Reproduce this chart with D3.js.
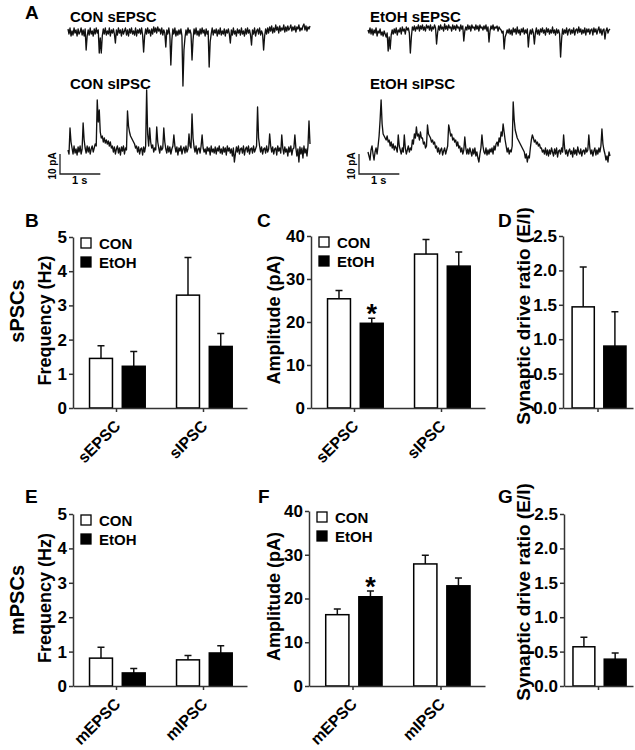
<!DOCTYPE html>
<html lang="en">
<head>
  <meta charset="UTF-8">
  <title>sPSCs / mPSCs</title>
  <style>
    body { margin: 0; background: #fff; }
    svg { font-family: "Liberation Sans", Arial, sans-serif; font-weight: bold; }
    .axis path, .axis line { stroke: #333; stroke-width: 1.5; }
    .axis text { font-size: 17px; font-weight: bold; fill: #000; font-family: "Liberation Sans", Arial, sans-serif; }
    .axis.x text { font-size: 16px; }
    .trace { fill: none; stroke: #111; stroke-width: 1.35; stroke-linejoin: round; }
    .scalebar { fill: none; stroke: #222; stroke-width: 1.3; }
  </style>
</head>
<body>
  <svg width="635" height="750"></svg>
  <script src="https://cdn.jsdelivr.net/npm/d3@7"></script>
  <script>
    // ---- data ----
    var groups = ["CON", "EtOH"];
    var spontCats = ["sEPSC", "sIPSC"];
    var miniCats = ["mEPSC", "mIPSC"];
    var ratioCats = [""];

    var freqTicks = [0, 1, 2, 3, 4, 5];
    var ampTicks = [0, 10, 20, 30, 40];
    var driveTicks = [0, 0.5, 1, 1.5, 2, 2.5];

    // B
    var sFreqCon = [1.45, 3.30], sFreqConSem = [0.37, 1.10];
    var sFreqEtoh = [1.22, 1.80], sFreqEtohSem = [0.43, 0.38];
    // C
    var sAmpCon = [25.4, 35.8], sAmpConSem = [1.9, 3.4];
    var sAmpEtoh = [19.7, 33.0], sAmpEtohSem = [1.2, 3.3];
    // D
    var sDriveCon = [1.47], sDriveConSem = [0.58];
    var sDriveEtoh = [0.90], sDriveEtohSem = [0.50];
    // E
    var mFreqCon = [0.81, 0.76], mFreqConSem = [0.32, 0.13];
    var mFreqEtoh = [0.38, 0.96], mFreqEtohSem = [0.13, 0.21];
    // F
    var mAmpCon = [16.3, 27.9], mAmpConSem = [1.3, 2.0];
    var mAmpEtoh = [20.4, 22.9], mAmpEtohSem = [1.3, 1.8];
    // G
    var mDriveCon = [0.57], mDriveConSem = [0.14];
    var mDriveEtoh = [0.39], mDriveEtohSem = [0.09];

    // example traces (pA, one sample every 0.025 s, 6 s)
    var dt = 0.025;
    var conSEPSC = [
      1.5, -1, 2, -2, 0.5, -1.5, 2, -0.5, 1, -2, 1.5, -1, 0, 2, -1.5, 1, -2, 1.5, -9, -2,
      1, -1.5, 2, -1, 0.5, -2, 1.5, -1, 2, -0.5, 1, -10.5, -3, -10.5, -2, 1.5, -1, 2, -1.5, 0.5,
      -1, 2, -2, 1, -0.5, 1.5, -1, -5.5, 1, -1.5, 2, -0.5, 1, -2, 1.5, -1, 0.5, 2, -1.5, 1,
      -2, 1.5, -0.5, 2, -1, 0.5, -1.5, 2, -2, 1, -0.5, 1.5, -1, 2, -1.5, -10, -2, 1.5, -1, 2,
      -0.5, 1, -2, 1.5, -1, 2.5, 0, 2, -0.5, 2.5, 0.5, 1.5, -1, 2, -1.5, 1, -0.5, -7.5, 1, -1,
      2, -1.5, -16.5, -4, 1.5, -1, 2, -2, 0.5, -1.5, 1, -1, 1.5, -2, -27, -9, -3, 1, -1.5, 2,
      -0.5, 1, -1, -14, -4, 1.5, -1, 2, -1.5, 0.5, -2, 1.5, -1, 2, -0.5, 1, -2, 1.5, -1, 0.5,
      -17.5, -5, -1, 2, -1.5, 1, -0.5, 1.5, -2, 1, -1, 2, -1.5, 0.5, -1, 1.5, -2, 1, -0.5, 1.5,
      -1, -5.5, 1, -1.5, 2, -1, 0.5, -2, 1.5, -0.5, 1, -1.5, 2, -1, 0.5, -2, 1.5, -1, 2, -0.5,
      1, -1.5, -6.5, 1, -1, 2, -2, 0.5, 1.5, -1, 2, -1.5, 0.5, -1, -9, -2, 1.5, -1, 2, -0.5,
      2.5, 0.5, 3, -0.5, 2, 0, 3.5, 1, 2.5, -0.5, 3, 0.5, 2, 1, 3.5, 0, 2.5, 0.5, 3, 1,
      2, 3.5, 0.5, 2.5, 1, 3, 0, 2.5, 1.5, 3.5, 0.5, 2, 1, 3, 4, 1, 3, 0.5, 2.5, 1.5,
      3
    ];
    var conSIPSC = [
      0, -2, 11, 4, 1, -2, 2, -1.5, 0.5, -2.5, 1.5, -1, 2, -2, 0.5, 13.5, 5, 1, -1.5, 2,
      -1, 1.5, -2, 0.5, 2, -1, 1, 3, 2, 25, 14, 20, 9, 6, 7, 4, 6, 3.5, 5, 3,
      4.5, 2, 4, 1, 2, -1, 1.5, -2, 0.5, 2, -1.5, 1, -2.5, 1.5, -0.5, 2, -2, 1, 0, 19.5,
      12, 9, 7, 6, 5, 4, 3, 1, 2, -1, 1.5, -2, 0.5, 1, -2.5, 1.5, -1, 2, 30, 8,
      2, 11, 4, 1, 2.5, -1, 1, 0, 11.5, 4, 1, -1.5, 2, 0, 1, 11, 4, 0.5, -1.5, 2,
      -1, 1.5, -2, 0.5, 2, 7.5, 2, -1, 1.5, -2.5, 1, -0.5, 2, -2, 0.5, 1.5, -1.5, 2, -1, 0.5,
      8, 2, 1, 18, 6, 1.5, -1, 2, -2, 0.5, 1, -1.5, 2, 7.5, 1, -1, 0.5, -2, 1.5, -0.5,
      1, -2.5, 2, -1, 0.5, -1.5, 1.5, -2, 1, -0.5, 2, -1.5, 0.5, -2, 1.5, -1, 1, -2.5, 2, -0.5,
      1, -1.5, 0.5, -3, 1, -6, -2, 1.5, -1, 2, -2, 0.5, 1, -1.5, 2, -2.5, 0.5, 1.5, -1, 2,
      -2, 0.5, 1, -1.5, 2, -1, 0.5, 2, 21.5, 6, 2, -1, 1.5, -2, 0.5, 1, -1.5, 2, -1, 0.5,
      8, 2, -1, 1.5, -2, 0.5, 1, -2.5, 2, -0.5, 1, -1.5, 7.5, 1, -2, 1.5, -1, 0.5, -3, 1.5,
      -1, 2, -2.5, 0.5, 1, 7.5, 1, -3, 0.5, -6, 1.5, -2, 1, -4, 2, -1.5, 0.5, -3, 2, 14.5,
      3
    ];
    var etohSEPSC = [
      0.5, -1, 1.5, -1.5, 1, -2, 0.5, -1, 1.5, -2.5, 0, -1, 1, -2, -0.5, -2.5, 0, -1.5, -3, -1,
      -10, -3, -9, -2, 0.5, -1.5, 1, -1, 1.5, -2, 0.5, -0.5, 1.5, -1.5, 2, 0, 1, -1.5, 2, 0.5,
      1.5, -1, -11, -3, 2, 0.5, 2.5, 0, 2, 1, 3, 0, 2.5, 1, 3, 0.5, 2, 0, 3, 1.5,
      2.5, 0.5, 3, 0, 2, 1, 3, 1.5, -6.5, -1, 2.5, 0.5, 3, 1, 2, 0, 3.5, 1, 2.5, 0.5,
      3, 1.5, 2, 0, 3, 1, 2.5, 0.5, 3, 1.5, 2, 0, 3, 1, 2.5, -5, 0, 2, 0.5, 3,
      1, 2.5, 0, 3, 1.5, 2, 0.5, 3, 1, 2.5, 0, 3, 1.5, 2, 0.5, 2.5, 1, 3, 0, 2,
      -5.5, 0, 2.5, 1, 3, 0.5, 2, 1.5, 2.5, 0, 2, 1, 0.5, -1, 0, -9, -3, -1.5, 0.5, -1,
      1, -1.5, 0.5, -2, 1.5, -0.5, 1, -1.5, 2, -1, 0.5, -2, 1, -0.5, 1.5, -1.5, 0.5, -1, 1, -8,
      -2, 0.5, -1.5, 1, -1, -6.5, -1, 1.5, -1.5, 0.5, -2, 1, -0.5, 1.5, -1, 0.5, -2, 1.5, -0.5, 1,
      -1.5, 0.5, -1, 2, -1, 0.5, -2, 1, -1, 0.5, -1.5, -13, -4, 1, -1.5, 0.5, -1, 1.5, -2, 0.5,
      1, -1.5, 0.5, -1, 1.5, -2, 0.5, 1, -1, 2, -0.5, 1, -1.5, 0.5, -1, 1.5, -2, 1, -0.5, 1,
      -1.5, 0.5, 1, -2, 1.5, -0.5, 1, -1.5, 0.5, 2, -1, 1, -2, 0.5, 1, -4, 0, 1.5, -1, 0.5,
      1
    ];
    var etohSIPSC = [
      0, -2, -4, 1, 3, -1, -4, 0, 2, -1, 3, 8, 16, 26, 14, 9, 8, 7, 6, 8,
      5, 6, 3, 5, 2, 4, 1, 3, 2, 0, 8.5, 3, 1, -1, 2, 0, 8.5, 2, -1, 1,
      3, 0, 2, 1, 6, 4, 9, 7, 12.5, 8, 9, 6, 10, 7, 7, 4, 5, 2, 3, 13.5,
      9, 8, 7, 5, 6, 4, 5, 2, 3, 0, 2, -1, 1, 2, -1.5, 0.5, 2, -1, 1, 3,
      13.5, 11, 8, 9, 6, 7, 5, 6, 3, 5, 2, 3, 0, 2, -1, 1, 7.5, 2, -1, 1.5,
      -1, 2, 0, -2, 1.5, -1, 2, -2, 0, -3, -5, -1, 2, 8.5, 3, 0, -1, 2, -1.5, 1,
      -1, 1.5, 0, 2, -1, 3, 1, 4, 5, 3, 7, 5, 10, 8, 14, 10, 6, 3, 0, 2,
      -1, 1, 0, 3, 25, 16, 11, 9, 7, 6, 5, 4, 3, 2, 1, 0, -3, -1, -5, -2,
      -3, 2, 6, 8.5, 7, 5, 6, 4, 5, 3, 4, 2, 2, 0, 1, -1, 2, -1.5, 1, -2,
      1, -1, 2, 0, -2, 1.5, -1, 2, -2.5, 0.5, 1, -1, 2, 0, 8.5, 2, -1, 1, -2, 0.5,
      1.5, -1, 0.5, -2.5, 2, -1, 1, -1.5, 2.5, 0, -1, 1.5, -2, 0.5, 1, -1, 2, 0, 1, 8.5,
      2, -1, 1, -2, 0.5, 2, -1.5, 1, -1, 2, 0, 3, 11.5, 4, 1, -1, -4, -2, -5, 0,
      -2
    ];

    var svg = d3.select("svg");

    // ---- panel A: traces ----
    function drawTrace(vals, x0, x1, base, label, labelY) {
      var tx = d3.scaleLinear().domain([0, 6]).range([x0, x1]);
      var ty = d3.scaleLinear().domain([0, 10]).range([base, base - 20]);
      var line = d3.line()
        .x(function(d, i) { return tx(i * dt); })
        .y(function(d) { return ty(d); });
      svg.append("path").datum(vals).attr("class", "trace").attr("d", line);
      svg.append("text").attr("x", x0 + 2).attr("y", labelY)
        .style("font-size", "15px").text(label);
      return {tx: tx, ty: ty};
    }

    function drawScaleBar(sc, x, y) {
      var w = sc.tx(1) - sc.tx(0), h = sc.ty(0) - sc.ty(10);
      svg.append("path").attr("class", "scalebar")
        .attr("d", "M" + x + "," + (y - h) + "V" + y + "H" + (x + w));
      svg.append("text").attr("transform", "translate(" + (x - 4) + "," + (y - h / 2 + 2) + ") rotate(-90)")
        .attr("text-anchor", "middle").style("font-size", "10px").text("10 pA");
      svg.append("text").attr("x", x + 12).attr("y", y + 10)
        .style("font-size", "11px").text("1 s");
    }

    drawTrace(conSEPSC, 68, 310, 32, "CON sEPSC", 22);
    var conI = drawTrace(conSIPSC, 68, 310, 150, "CON sIPSC", 89);
    drawTrace(etohSEPSC, 368, 610, 31, "EtOH sEPSC", 22);
    var etI = drawTrace(etohSIPSC, 368, 610, 152, "EtOH sIPSC", 89);
    drawScaleBar(conI, 60, 174);
    drawScaleBar(etI, 359, 174);

    // ---- bar panels ----
    function drawPanel(p) {
      var y = d3.scaleLinear().domain([0, d3.max(p.ticks)]).range([p.yBase, p.yTop]);
      var x = d3.scaleBand().domain(p.cats).range([p.x0, p.x1]);
      var bw = x.bandwidth();
      var inner = d3.scaleBand().domain(groups)
        .range([bw * p.inner[0], bw * p.inner[1]]).paddingInner(0.3);

      var rows = [];
      p.cats.forEach(function(c, i) {
        rows.push({cat: c, grp: "CON", v: p.con[i], e: p.conSem[i]});
        rows.push({cat: c, grp: "EtOH", v: p.etoh[i], e: p.etohSem[i]});
      });
      function cx(d) { return x(d.cat) + inner(d.grp) + inner.bandwidth() / 2; }

      var g = svg.append("g");

      // error bars (upper only)
      g.selectAll(".err").data(rows).enter().append("path")
        .attr("class", "err")
        .attr("fill", "none").attr("stroke", "#111").attr("stroke-width", 1.5)
        .attr("d", function(d) {
          var c = cx(d), t = y(d.v + d.e);
          return "M" + c + "," + y(d.v) + "V" + t + "M" + (c - 3.5) + "," + t + "H" + (c + 3.5);
        });

      // bars
      g.selectAll(".bar").data(rows).enter().append("rect")
        .attr("class", "bar")
        .attr("x", function(d) { return x(d.cat) + inner(d.grp); })
        .attr("y", function(d) { return y(d.v); })
        .attr("width", inner.bandwidth())
        .attr("height", function(d) { return p.yBase - y(d.v); })
        .attr("fill", function(d) { return d.grp === "CON" ? "#fff" : "#000"; })
        .attr("stroke", "#000").attr("stroke-width", 1.5);

      // significance
      (p.stars || []).forEach(function(s) {
        var d = rows.filter(function(r) { return r.cat === s.cat && r.grp === s.grp; })[0];
        g.append("text").attr("x", cx(d)).attr("y", y(d.v + d.e) + 5)
          .attr("text-anchor", "middle").style("font-size", "27px").text("*");
      });

      // axes
      g.append("g").attr("class", "axis y")
        .attr("transform", "translate(" + p.x0 + ",0)")
        .call(d3.axisLeft(y).tickValues(p.ticks).tickSize(4).tickSizeOuter(0).tickPadding(2).tickFormat(p.fmt));

      var xa = g.append("g").attr("class", "axis x")
        .attr("transform", "translate(0," + p.yBase + ")")
        .call(d3.axisBottom(x).tickSize(4).tickSizeOuter(0));
      xa.selectAll("text")
        .attr("x", 0).attr("y", 0).attr("dy", 0)
        .attr("text-anchor", "end")
        .attr("transform", "translate(5,19) rotate(-45)");

      // axis title
      g.append("text")
        .attr("transform", "translate(" + p.titleX + "," + ((p.yBase + p.yTop) / 2 + p.titleDy) + ") rotate(-90)")
        .attr("text-anchor", "middle").style("font-size", p.titleSize || "18px").text(p.title);

      // panel letter
      g.append("text").attr("x", p.letterX).attr("y", p.letterY)
        .style("font-size", "19px").text(p.letter);

      // legend
      if (p.legend) {
        groups.forEach(function(gr, i) {
          var ly = p.yTop + 1 + i * 19;
          g.append("rect").attr("x", p.x0 + 8).attr("y", ly).attr("width", 10).attr("height", 10)
            .attr("fill", gr === "CON" ? "#fff" : "#000").attr("stroke", "#000").attr("stroke-width", 1.3);
          g.append("text").attr("x", p.x0 + 26).attr("y", ly + 11)
            .style("font-size", "15px").text(gr);
        });
      }
    }

    var fmtInt = d3.format("d"), fmt1 = d3.format(".1f");
    var grouped = [0.19, 0.83], single = [0.13, 0.9];

    drawPanel({x0: 73, x1: 247, yTop: 237, yBase: 408, ticks: freqTicks, fmt: fmtInt,
      cats: spontCats, con: sFreqCon, conSem: sFreqConSem, etoh: sFreqEtoh, etohSem: sFreqEtohSem,
      inner: grouped, title: "Frequency (Hz)", titleX: 51, titleDy: -2, letter: "B", letterX: 25, letterY: 227, legend: true});
    drawPanel({x0: 311, x1: 485, yTop: 236, yBase: 408, ticks: ampTicks, fmt: fmtInt,
      cats: spontCats, con: sAmpCon, conSem: sAmpConSem, etoh: sAmpEtoh, etohSem: sAmpEtohSem,
      inner: grouped, title: "Amplitude (pA)", titleX: 280, titleDy: -2, letter: "C", letterX: 257, letterY: 227, legend: true,
      stars: [{cat: "sEPSC", grp: "EtOH"}]});
    drawPanel({x0: 563, x1: 633, yTop: 236, yBase: 408, ticks: driveTicks, fmt: fmt1,
      cats: ratioCats, con: sDriveCon, conSem: sDriveConSem, etoh: sDriveEtoh, etohSem: sDriveEtohSem,
      inner: single, title: "Synaptic drive ratio (E/I)", titleSize: "19px", titleX: 530, titleDy: -6, letter: "D", letterX: 498, letterY: 227});

    drawPanel({x0: 73, x1: 247, yTop: 514, yBase: 686, ticks: freqTicks, fmt: fmtInt,
      cats: miniCats, con: mFreqCon, conSem: mFreqConSem, etoh: mFreqEtoh, etohSem: mFreqEtohSem,
      inner: grouped, title: "Frequency (Hz)", titleX: 51, titleDy: -2, letter: "E", letterX: 25, letterY: 503, legend: true});
    drawPanel({x0: 309, x1: 485, yTop: 511, yBase: 686, ticks: ampTicks, fmt: fmtInt,
      cats: miniCats, con: mAmpCon, conSem: mAmpConSem, etoh: mAmpEtoh, etohSem: mAmpEtohSem,
      inner: grouped, title: "Amplitude (pA)", titleX: 280, titleDy: -2, letter: "F", letterX: 258, letterY: 503, legend: true,
      stars: [{cat: "mEPSC", grp: "EtOH"}]});
    drawPanel({x0: 564, x1: 633, yTop: 514, yBase: 686, ticks: driveTicks, fmt: fmt1,
      cats: ratioCats, con: mDriveCon, conSem: mDriveConSem, etoh: mDriveEtoh, etohSem: mDriveEtohSem,
      inner: single, title: "Synaptic drive ratio (E/I)", titleSize: "19px", titleX: 530, titleDy: -8, letter: "G", letterX: 498, letterY: 503});

    // row labels
    svg.append("text").attr("transform", "translate(24,311) rotate(-90)")
      .attr("text-anchor", "middle").style("font-size", "20px").text("sPSCs");
    svg.append("text").attr("transform", "translate(24,600) rotate(-90)")
      .attr("text-anchor", "middle").style("font-size", "20px").text("mPSCs");

    // panel A letter
    svg.append("text").attr("x", 25).attr("y", 19).style("font-size", "19px").text("A");
  </script>
</body>
</html>
